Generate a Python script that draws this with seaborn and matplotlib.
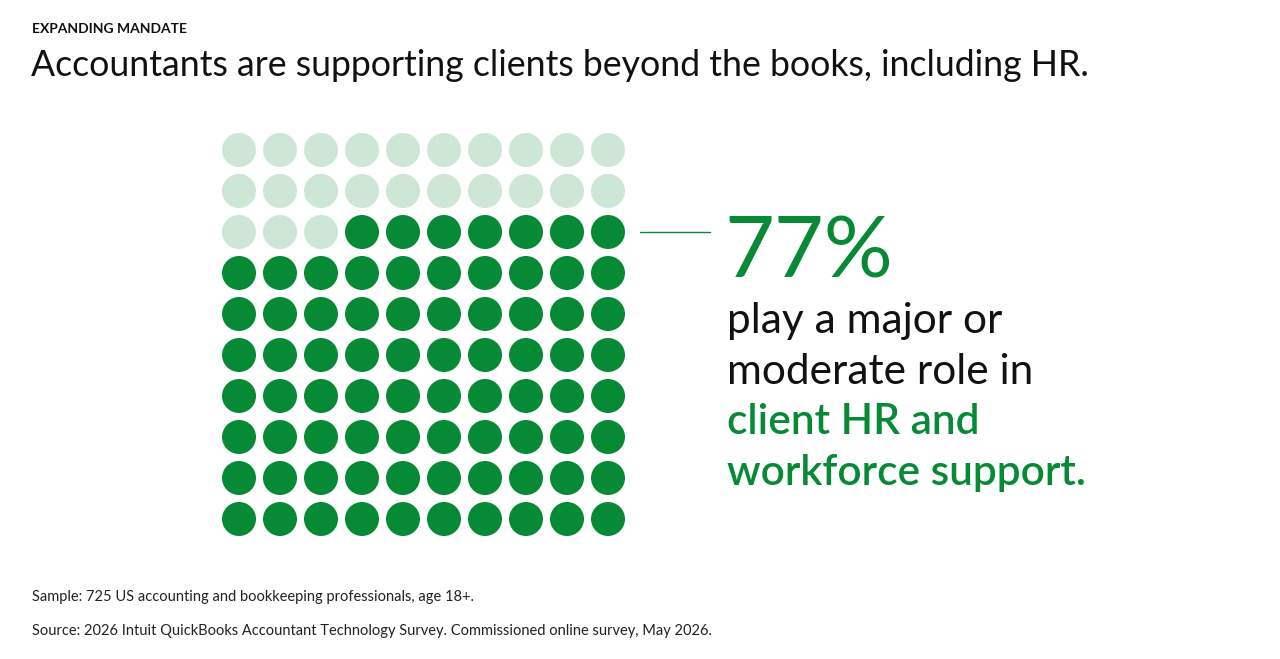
import pandas as pd
import matplotlib.pyplot as plt
import seaborn as sns

# data
share_pct = 77
total_dots = 100
n_cols = 10
header = 'EXPANDING MANDATE'
title = 'Accountants are supporting clients beyond the books, including HR.'
big_number = '77%'
caption_black = ['play a major or', 'moderate role in']
caption_green = ['client HR and', 'workforce support.']
notes = ['Sample: 725 US accounting and bookkeeping professionals, age 18+.',
         'Source: 2026 Intuit QuickBooks Accountant Technology Survey. Commissioned online survey, May 2026.']

GREEN = '#068a36'
LIGHT = '#cde6d5'
W, H = 1280, 659

# waffle grid: filled from bottom, right to left within the row
k = pd.Series(range(total_dots))
waffle = pd.DataFrame({
    'col': (n_cols - 1) - k % n_cols,
    'row': k // n_cols,
    'state': ['yes' if i < share_pct else 'no' for i in k],
})

sns.set_style('white')
plt.rcParams['font.family'] = ['Lato', 'DejaVu Sans']

fig = plt.figure(figsize=(W / 100, H / 100), dpi=100)
ax = fig.add_axes([218.5 / W, (H - 539.5) / H, 410 / W, 410 / H])
sns.scatterplot(data=waffle, x='col', y='row', hue='state',
                palette={'yes': GREEN, 'no': LIGHT}, s=600,
                linewidth=0, legend=False, ax=ax)
ax.set_xlim(-0.5, n_cols - 0.5)
ax.set_ylim(-0.5, total_dots / n_cols - 0.5)
ax.set_axis_off()


def px(x, y):
    return x / W, (H - y) / H


# connector line
fig.add_artist(plt.Line2D([640 / W, 710 / W], [(H - 232) / H] * 2,
                          color=GREEN, lw=1.0))

fig.text(*px(32, 33), header, fontsize=10, fontweight='bold', color='#111111', va='baseline')
fig.text(*px(31, 76), title, fontsize=25.7, color='#111111', va='baseline')

fig.text(*px(724, 278), big_number, fontsize=62, fontweight='normal', color=GREEN, va='baseline')
base = 333
for i, line in enumerate(caption_black + caption_green):
    fig.text(*px(727, base + 50.5 * i), line, fontsize=30.5,
             color='#111111' if i < len(caption_black) else GREEN,
             fontweight='normal' if i < len(caption_black) else 'semibold',
             va='baseline')

fig.text(*px(32, 601), notes[0], fontsize=10.5, color='#222222', va='baseline')
fig.text(*px(32, 635), notes[1], fontsize=10.5, color='#222222', va='baseline')

plt.savefig('out.png', dpi=100, facecolor='white')
